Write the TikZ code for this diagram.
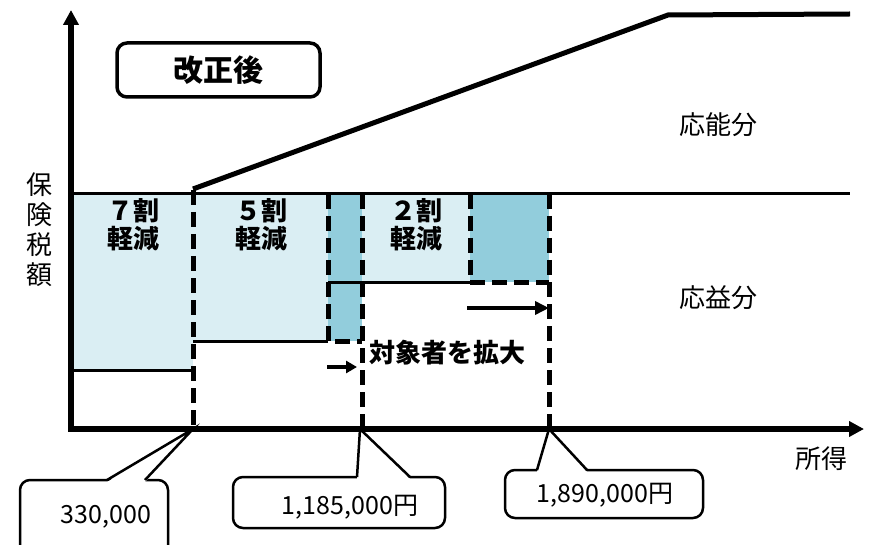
\documentclass[tikz,border=0pt]{standalone}
\usepackage{fontspec}
\setmainfont{Noto Sans CJK JP}
\usepackage{xcolor}
\usepackage{tikz}
\usetikzlibrary{arrows.meta}
\definecolor{paleblue}{HTML}{DAEEF3}
\definecolor{deepblue}{HTML}{92CDDC}

\begin{document}
\begin{tikzpicture}[x=1pt,y=-1pt,
    dashln/.style={line width=5pt,dash pattern=on 15pt off 7pt},
    thinln/.style={line width=3pt},
    band/.style={font=\bfseries\fontsize{26}{28}\selectfont,align=center},
    plain/.style={font=\fontsize{26}{30}\selectfont,align=center},
    tagtext/.style={font=\fontsize{25}{25}\selectfont}]
    \useasboundingbox (0,0) rectangle (872,545);
    \fill[paleblue] (71,194) rectangle (193,370);
    \fill[paleblue] (193,194) rectangle (328,341);
    \fill[paleblue] (362,194) rectangle (470,282);
    \fill[deepblue] (328,194) rectangle (362,341);
    \fill[deepblue] (470,194) rectangle (549,282);
     \draw[thinln] (71,370) -- (193,370);
     \draw[thinln] (193,341) -- (328,341);
     \draw[thinln] (328,282) -- (470,282);
     \draw[line width=3pt] (71,194) -- (850,194);
      \draw[dashln] (193,190) -- (193,429);
      \draw[dashln] (328,194) -- (328,341) -- (362,341);
      \draw[dashln] (362,194) -- (362,429);
      \draw[dashln] (470,194) -- (470,282) -- (549,282);
      \draw[dashln] (549,194) -- (549,429);
      \draw[line width=5pt] (193,189) -- (668,15) -- (850,14);
       \draw[line width=4pt,-{Triangle[length=11pt,width=12pt]}] (327,367) -- (357,367);
       \draw[line width=4pt,-{Triangle[length=14pt,width=13pt]}] (467,308) -- (549,308);
    \node[draw,line width=3.5pt,rounded corners=10pt,minimum width=203pt,minimum height=54pt,
          font=\bfseries\fontsize{30}{30}\selectfont] (after) at (218.5,70) {改正後};
    \node[band] (seven) at (133,225) {７割\\軽減};
    \node[band] (five) at (261,225) {５割\\軽減};
    \node[band] (two) at (416,225) {２割\\軽減};
    \node[font=\bfseries\fontsize{26}{26}\selectfont] (widen) at (447,353) {対象者を拡大};
    \node[plain] (ability) at (718,125) {応能分};
    \node[plain] (benefit) at (718,298) {応益分};
    \node[plain] (tax) at (40,230) {保\\険\\税\\額};
    \node[plain] (income) at (821,459) {所得};
  % callouts under the axis
    \draw[line width=2.5pt,fill=white,rounded corners=10pt] (20,480) rectangle (168,575);
    \fill[white] (107,482) -- (193,429) -- (145,482) -- cycle;
    \draw[line width=2.5pt] (107,480) -- (193,429) -- (145,480);
    \node[tagtext] (low) at (106,517) {330,000};
    \draw[line width=2.5pt,fill=white,rounded corners=10pt] (233,477) rectangle (445,528);
    \fill[white] (357,479) -- (360,429) -- (410,479) -- cycle;
    \draw[line width=2.5pt] (357,477) -- (360,429) -- (410,477);
    \node[tagtext] (mid) at (350,507) {1,185,000円};
    \draw[line width=2.5pt,fill=white,rounded corners=10pt] (505,470) rectangle (703,518);
    \fill[white] (537,472) -- (549,429) -- (587,472) -- cycle;
    \draw[line width=2.5pt] (537,470) -- (549,429) -- (587,470);
    \node[tagtext] (high) at (605,495) {1,890,000円};
  %  \draw (0,0) grid [step=50] (872,545);
    \draw[line width=5.5pt,{Triangle[length=15pt,width=15pt]}-{Triangle[length=15pt,width=15pt]}]
        (71,10) -- (71,429) -- (864,429);
\end{tikzpicture}
\end{document}
